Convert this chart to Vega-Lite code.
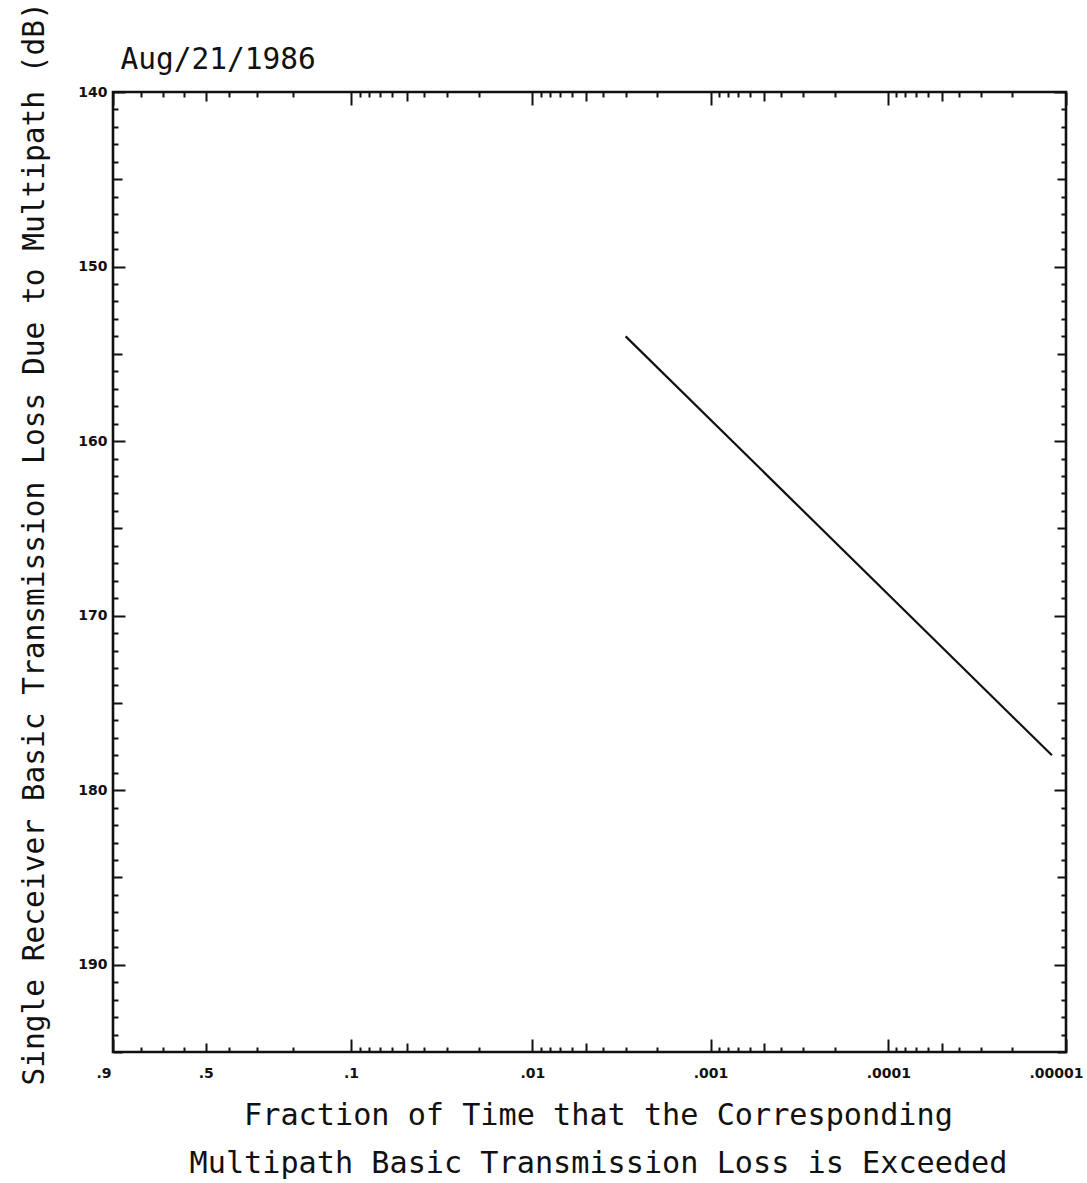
{
  "$schema": "https://vega.github.io/schema/vega-lite/v6.json",
  "width": 953,
  "height": 960,
  "autosize": "none",
  "padding": {"left": 113, "top": 92, "right": 21, "bottom": 131},
  "background": "white",
  "config": {
    "view": {"stroke": "#111", "strokeWidth": 2.6},
    "axis": {
      "grid": false,
      "domain": false,
      "tickColor": "#111",
      "tickWidth": 2,
      "labelColor": "#111",
      "labelFont": "DejaVu Sans",
      "labelFontWeight": "bold",
      "labelFontSize": 14,
      "labelOverlap": false,
      "labelBound": false,
      "labelFlush": false,
      "titleFont": "DejaVu Sans Mono",
      "titleFontWeight": "normal",
      "titleFontSize": 29.5,
      "titleColor": "#111"
    }
  },
  "data": {
    "values": [
      {"fraction": 0.003, "loss": 154.0},
      {"fraction": 0.000012, "loss": 178.0}
    ]
  },
  "transform": [
    {"calculate": "log(-log(1 - datum.fraction)) / LN10", "as": "rayleigh"}
  ],
  "layer": [
    {
      "mark": {"type": "line", "color": "#111", "strokeWidth": 2.2},
      "encoding": {
        "x": {
          "field": "rayleigh",
          "type": "quantitative",
          "scale": {"domain": [0.362216, -5], "nice": false, "zero": false},
          "axis": {
            "orient": "bottom",
            "values": [0.362216, 0.206675, 0.080617, -0.037962, -0.159148, -0.291724, -0.447729, -0.651416, -0.977318, -1.025439, -1.078927, -1.139237, -1.208484, -1.289939, -1.389106, -1.516285, -1.694581, -1.997818, -2.043803, -2.095173, -2.153382, -2.220546, -2.299944, -2.397071, -2.522228, -2.698536, -2.999783, -3.045757, -3.09691, -3.154902, -3.221849, -3.30103, -3.39794, -3.522879, -3.69897, -4, -4.045757, -4.09691, -4.154902, -4.221849, -4.30103, -4.39794, -4.522879, -4.69897, -5],
            "tickSize": {
              "condition": [
                {"test": "abs(datum.value - 0.362216) < 1e-4 || abs(datum.value + 0.977318) < 1e-4 || abs(datum.value + 1.997818) < 1e-4 || abs(datum.value + 2.999783) < 1e-4 || abs(datum.value + 4) < 1e-4 || abs(datum.value + 5) < 1e-4", "value": -13},
                {"test": "abs(datum.value + 0.159148) < 1e-4 || abs(datum.value + 1.289939) < 1e-4 || abs(datum.value + 2.299944) < 1e-4 || abs(datum.value + 3.30103) < 1e-4 || abs(datum.value + 4.30103) < 1e-4", "value": -9}
              ],
              "value": -5
            },
            "labelPadding": {
              "condition": {"test": "abs(datum.value + 0.159148) < 1e-4", "value": 23},
              "value": 27
            },
            "labelFlush": true,
            "labelFlushOffset": 17,
            "labelExpr": "abs(datum.value - 0.362216) < 1e-4 ? '.9' : abs(datum.value + 0.159148) < 1e-4 ? '.5' : abs(datum.value + 0.977318) < 1e-4 ? '.1' : abs(datum.value + 1.997818) < 1e-4 ? '.01' : abs(datum.value + 2.999783) < 1e-4 ? '.001' : abs(datum.value + 4) < 1e-4 ? '.0001' : abs(datum.value + 5) < 1e-4 ? '.00001' : ''",
            "title": ["Fraction of Time that the Corresponding", "Multipath Basic Transmission Loss is Exceeded"],
            "titleFontSize": 30.2,
            "titleX": 485,
            "titleY": 72,
            "titleBaseline": "alphabetic",
            "titleLineHeight": 48
          }
        },
        "y": {
          "field": "loss",
          "type": "quantitative",
          "scale": {"domain": [140, 195], "reverse": true, "nice": false, "zero": false},
          "axis": {
            "orient": "left",
            "values": [140, 141, 142, 143, 144, 145, 146, 147, 148, 149, 150, 151, 152, 153, 154, 155, 156, 157, 158, 159, 160, 161, 162, 163, 164, 165, 166, 167, 168, 169, 170, 171, 172, 173, 174, 175, 176, 177, 178, 179, 180, 181, 182, 183, 184, 185, 186, 187, 188, 189, 190, 191, 192, 193, 194, 195],
            "tickSize": {
              "condition": [
                {"test": "datum.value % 10 == 0", "value": -12},
                {"test": "datum.value % 5 == 0", "value": -9}
              ],
              "value": -5
            },
            "labelPadding": 18,
            "labelExpr": "datum.value % 10 == 0 && datum.value < 195 ? '' + datum.value : ''",
            "title": "Single Receiver Basic Transmission Loss Due to Multipath (dB)",
            "titleAngle": 270,
            "titleAlign": "left",
            "titleBaseline": "alphabetic",
            "titleX": -70,
            "titleY": 993
          }
        }
      }
    },
    {
      "mark": {"type": "line", "strokeOpacity": 0},
      "encoding": {
        "x": {
          "field": "rayleigh",
          "type": "quantitative",
          "axis": {
            "orient": "top",
            "values": [0.362216, 0.206675, 0.080617, -0.037962, -0.159148, -0.291724, -0.447729, -0.651416, -0.977318, -1.025439, -1.078927, -1.139237, -1.208484, -1.289939, -1.389106, -1.516285, -1.694581, -1.997818, -2.043803, -2.095173, -2.153382, -2.220546, -2.299944, -2.397071, -2.522228, -2.698536, -2.999783, -3.045757, -3.09691, -3.154902, -3.221849, -3.30103, -3.39794, -3.522879, -3.69897, -4, -4.045757, -4.09691, -4.154902, -4.221849, -4.30103, -4.39794, -4.522879, -4.69897, -5],
            "tickSize": {
              "condition": [
                {"test": "abs(datum.value - 0.362216) < 1e-4 || abs(datum.value + 0.977318) < 1e-4 || abs(datum.value + 1.997818) < 1e-4 || abs(datum.value + 2.999783) < 1e-4 || abs(datum.value + 4) < 1e-4 || abs(datum.value + 5) < 1e-4", "value": -13},
                {"test": "abs(datum.value + 0.159148) < 1e-4 || abs(datum.value + 1.289939) < 1e-4 || abs(datum.value + 2.299944) < 1e-4 || abs(datum.value + 3.30103) < 1e-4 || abs(datum.value + 4.30103) < 1e-4", "value": -9}
              ],
              "value": -5
            },
            "labels": false,
            "title": "Aug/21/1986",
            "titleAlign": "left",
            "titleAnchor": "start",
            "titleBaseline": "alphabetic",
            "titleX": 7,
            "titleY": -24
          }
        },
        "y": {
          "field": "loss",
          "type": "quantitative",
          "axis": {
            "orient": "right",
            "values": [140, 141, 142, 143, 144, 145, 146, 147, 148, 149, 150, 151, 152, 153, 154, 155, 156, 157, 158, 159, 160, 161, 162, 163, 164, 165, 166, 167, 168, 169, 170, 171, 172, 173, 174, 175, 176, 177, 178, 179, 180, 181, 182, 183, 184, 185, 186, 187, 188, 189, 190, 191, 192, 193, 194, 195],
            "tickSize": {
              "condition": [
                {"test": "datum.value % 10 == 0", "value": -12},
                {"test": "datum.value % 5 == 0", "value": -9}
              ],
              "value": -5
            },
            "labels": false,
            "title": null
          }
        }
      }
    }
  ],
  "resolve": {"axis": {"x": "independent", "y": "independent"}}
}
